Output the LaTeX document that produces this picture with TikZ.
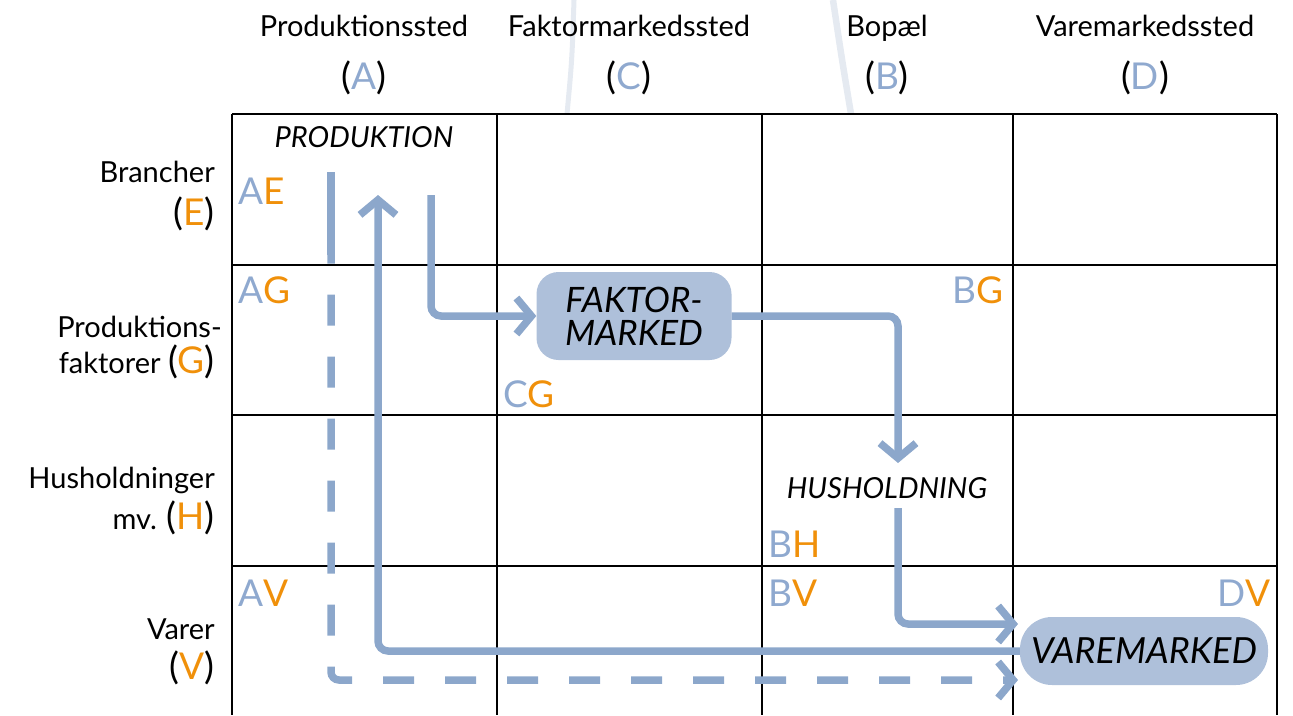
\documentclass[tikz,border=0pt]{standalone}
\usepackage{fontspec}
\setmainfont{Lato}
\usetikzlibrary{arrows.meta}

\definecolor{flowblue}{HTML}{8CA7CB}
\definecolor{boxblue}{HTML}{AEC0DA}
\definecolor{codeblue}{HTML}{8FA9CF}
\definecolor{codeorange}{HTML}{F0900A}
\definecolor{faintline}{HTML}{E5EAF1}

\newcommand{\lblfont}{\fontsize{29}{34}\selectfont}
\newcommand{\codefont}{\fontsize{37}{40}\selectfont}
\newcommand{\cellcode}[2]{{\color{codeblue}#1}{\color{codeorange}#2}}

\begin{document}
\begin{tikzpicture}[x=1pt, y=-1pt,
	lbl/.style={font=\lblfont, inner sep=0pt, anchor=base},
	rowlbl/.style={font=\lblfont, inner sep=0pt, anchor=base east},
	code/.style={font=\codefont, inner sep=0pt, anchor=base west},
	coderight/.style={font=\codefont, inner sep=0pt, anchor=base east},
	sector/.style={font=\lblfont\itshape, inner sep=0pt},
	market/.style={fill=boxblue, inner sep=0pt, align=center, font=\fontsize{35}{33}\selectfont\itshape},
	flow/.style={draw=flowblue, line width=7.5pt, rounded corners=10pt, -{Straight Barb[length=15pt,width=36pt]}},
	grid line/.style={line width=2.2pt}]
	\useasboundingbox (0,0) rectangle (1293,715);

	% faint curves behind the header
	\draw [faintline, line width=5pt] (574,0) .. controls (572,60) .. (567,114);
	\draw [faintline, line width=6.5pt] (833,0) .. controls (842,60) .. (851,114);

	% Grid
	\foreach \x in {232,497,762,1013,1277}
		\draw [grid line] (\x,114) -- (\x,715);
	\foreach \y in {114,265,415,566}
		\draw [grid line] (232,\y) -- (1277,\y);

	% Column headers {A, C, B, D}
	\node [lbl] (hA) at (364,36)  {Produktionssted};
	\node [lbl] (hC) at (629,36)  {Faktormarkedssted};
	\node [lbl] (hB) at (887,36)  {Bopæl};
	\node [lbl] (hD) at (1145,36) {Varemarkedssted};
	\node [lbl, font=\codefont] (lA) at (364,89)  {(\textcolor{codeblue}{A})};
	\node [lbl, font=\codefont] (lC) at (629,89)  {(\textcolor{codeblue}{C})};
	\node [lbl, font=\codefont] (lB) at (887,89)  {(\textcolor{codeblue}{B})};
	\node [lbl, font=\codefont] (lD) at (1145,89) {(\textcolor{codeblue}{D})};

	% Row headers {E, G, H, V}
	\node [rowlbl] (rE1) at (215,182) {Brancher};
	\node [rowlbl, font=\codefont] (rE2) at (215,225) {(\textcolor{codeorange}{E})};
	\node [rowlbl] (rG1) at (222,337) {Produktions-};
	\node [rowlbl] (rG2) at (215,373) {faktorer {\codefont(\textcolor{codeorange}{G})}};
	\node [rowlbl] (rH1) at (215,488) {Husholdninger};
	\node [rowlbl] (rH2) at (215,529) {mv. {\codefont(\textcolor{codeorange}{H})}};
	\node [rowlbl] (rV1) at (215,639) {Varer};
	\node [rowlbl, font=\codefont] (rV2) at (215,679) {(\textcolor{codeorange}{V})};

	% Cell codes
	\node [code] (AE) at (238,204) {\cellcode{A}{E}};
	\node [code] (AG) at (238,303) {\cellcode{A}{G}};
	\node [code] (CG) at (503,407) {\cellcode{C}{G}};
	\node [coderight] (BG) at (1004,303) {\cellcode{B}{G}};
	\node [code] (BH) at (768,557) {\cellcode{B}{H}};
	\node [code] (AV) at (238,606) {\cellcode{A}{V}};
	\node [code] (BV) at (768,606) {\cellcode{B}{V}};
	\node [coderight] (DV) at (1271,606) {\cellcode{D}{V}};

	% Sectors and markets
	\node [sector, anchor=base] (prod) at (364,147) {PRODUKTION};
	\node [sector, anchor=base] (hus) at (887,498) {HUSHOLDNING};
	\node [market, rounded corners=22pt, minimum width=195pt, minimum height=88pt] (fak) at (634,316) {FAKTOR-\\MARKED};
	\node [market, rounded corners=32pt, minimum width=248pt, minimum height=68pt, font=\fontsize{36}{36}\selectfont\itshape] (vm) at (1144,651) {VAREMARKED};

	% Free ends of the flows
	\coordinate (prodout) at (431,195);
	\coordinate (prodin)  at (378,195);
	\coordinate (dashout) at (331,172);
	\coordinate (dashlong) at (331,255);
	\coordinate (husin)   at (898,463);
	\coordinate (husout)  at (898,508);
	\coordinate (vmin)    at (1018,624);
	\coordinate (vmdash)  at (1018,680);

	% Paths
	\draw [flow] (prodout) |- (fak.west);
	\draw [flow] (fak.east) -| (husin);
	\draw [flow] (husout) |- (vmin);
	\draw [flow] (vm.west) -| (prodin);
	\draw [flow, dash pattern=on 31pt off 31pt, dash phase=1.4pt, rounded corners=8pt] (dashout) |- (vmdash);
	\draw [flow, -] (dashout) -- (dashlong);

\end{tikzpicture}
\end{document}
